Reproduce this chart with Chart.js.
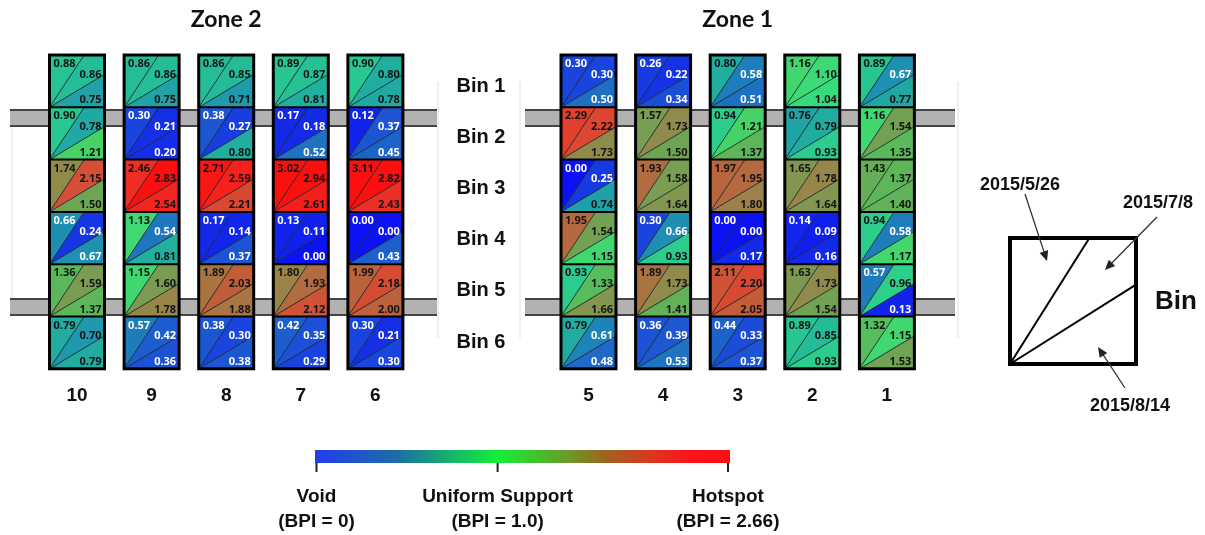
<!DOCTYPE html>
<html>
<head>
<meta charset="utf-8">
<script src="https://cdn.jsdelivr.net/npm/chart.js@4.4.1/dist/chart.umd.min.js"></script>
<style>
  html, body { margin: 0; padding: 0; background: #fff; }
  #wrap { width: 1205px; height: 535px; }
</style>
</head>
<body>
<div id="wrap"><canvas id="bpiChart" width="1205" height="535"></canvas></div>
<script>
// ---- data ----
const zoneNames = ['Zone 2', 'Zone 1'];
const zone2Columns = ['10', '9', '8', '7', '6'];
const zone1Columns = ['5', '4', '3', '2', '1'];
const binLabels = ['Bin 1', 'Bin 2', 'Bin 3', 'Bin 4', 'Bin 5', 'Bin 6'];
const surveyDates = ['2015/5/26', '2015/7/8', '2015/8/14'];

// BPI per bin (Bin 1..6), each [2015/5/26, 2015/7/8, 2015/8/14]
const bpiCol10 = [[0.88, 0.86, 0.75], [0.90, 0.78, 1.21], [1.74, 2.15, 1.50], [0.66, 0.24, 0.67], [1.36, 1.59, 1.37], [0.79, 0.70, 0.79]];
const bpiCol9  = [[0.86, 0.86, 0.75], [0.30, 0.21, 0.20], [2.46, 2.83, 2.54], [1.13, 0.54, 0.81], [1.15, 1.60, 1.78], [0.57, 0.42, 0.36]];
const bpiCol8  = [[0.86, 0.85, 0.71], [0.38, 0.27, 0.80], [2.71, 2.59, 2.21], [0.17, 0.14, 0.37], [1.89, 2.03, 1.88], [0.38, 0.30, 0.38]];
const bpiCol7  = [[0.89, 0.87, 0.81], [0.17, 0.18, 0.52], [3.02, 2.94, 2.61], [0.13, 0.11, 0.00], [1.80, 1.93, 2.12], [0.42, 0.35, 0.29]];
const bpiCol6  = [[0.90, 0.80, 0.78], [0.12, 0.37, 0.45], [3.11, 2.82, 2.43], [0.00, 0.00, 0.43], [1.99, 2.18, 2.00], [0.30, 0.21, 0.30]];
const bpiCol5  = [[0.30, 0.30, 0.50], [2.29, 2.22, 1.73], [0.00, 0.25, 0.74], [1.95, 1.54, 1.15], [0.93, 1.33, 1.66], [0.79, 0.61, 0.48]];
const bpiCol4  = [[0.26, 0.22, 0.34], [1.57, 1.73, 1.50], [1.93, 1.58, 1.64], [0.30, 0.66, 0.93], [1.89, 1.73, 1.41], [0.36, 0.39, 0.53]];
const bpiCol3  = [[0.80, 0.58, 0.51], [0.94, 1.21, 1.37], [1.97, 1.95, 1.80], [0.00, 0.00, 0.17], [2.11, 2.20, 2.05], [0.44, 0.33, 0.37]];
const bpiCol2  = [[1.16, 1.10, 1.04], [0.76, 0.79, 0.93], [1.65, 1.78, 1.64], [0.14, 0.09, 0.16], [1.63, 1.73, 1.54], [0.89, 0.85, 0.93]];
const bpiCol1  = [[0.89, 0.67, 0.77], [1.16, 1.54, 1.35], [1.43, 1.37, 1.40], [0.94, 0.58, 1.17], [0.57, 0.96, 0.13], [1.32, 1.15, 1.53]];

const zone2Values = [bpiCol10, bpiCol9, bpiCol8, bpiCol7, bpiCol6];
const zone1Values = [bpiCol5, bpiCol4, bpiCol3, bpiCol2, bpiCol1];

// colour scale ticks
const scaleTickValues = [0, 1.0, 2.66];
const scaleTickNames = ['Void', 'Uniform Support', 'Hotspot'];
const scaleTickNotes = ['(BPI = 0)', '(BPI = 1.0)', '(BPI = 2.66)'];

// ---- layout / style ----
const LAYOUT = {
    zoneLeft: [49.5, 561],
    pitch: 74.6,
    colW: 55,
    top: 55,
    binH: 52.3,
    titleY: 20,
    colLabelY: 396,
    binLabelX: 481, binLabelY: 86, binLabelStep: 51.2,
    beamY: [110, 299], beamH: 16,
    beamX: [[10, 437], [525, 955]],
    bar: { x0: 315, x1: 730, y: 450, h: 13, tickH: 9, mid: 0.44 },
    key: { x: 1010, y: 238, s: 126 }
};

// cell colour stops (value -> rgb), sampled from the figure
const CELL_STOPS = [
    [0.00, [12, 18, 245]], [0.20, [20, 45, 232]], [0.35, [28, 80, 215]],
    [0.50, [30, 110, 195]], [0.65, [30, 140, 180]], [0.78, [32, 168, 162]],
    [0.90, [40, 200, 145]], [1.05, [55, 220, 125]], [1.20, [70, 212, 105]],
    [1.35, [90, 185, 90]], [1.50, [110, 165, 85]], [1.65, [130, 150, 80]],
    [1.80, [155, 130, 72]], [1.95, [180, 105, 62]], [2.10, [205, 85, 55]],
    [2.30, [228, 62, 45]], [2.55, [245, 35, 30]], [2.80, [252, 15, 15]]
];
// gradient of the colour bar (fraction -> colour)
const BAR_STOPS = [
    [0.00, 'rgb(35,60,238)'], [0.20, 'rgb(28,110,165)'], [0.44, 'rgb(20,240,55)'],
    [0.60, 'rgb(100,160,40)'], [0.70, 'rgb(160,100,30)'], [0.82, 'rgb(225,50,30)'],
    [0.90, 'rgb(250,20,25)'], [1.00, 'rgb(250,15,20)']
];

function bpiColor(v) {
    if (v <= CELL_STOPS[0][0]) return `rgb(${CELL_STOPS[0][1].join(',')})`;
    for (let i = 1; i < CELL_STOPS.length; i++) {
        const [v1, c1] = CELL_STOPS[i];
        if (v <= v1) {
            const [v0, c0] = CELL_STOPS[i - 1];
            const t = (v - v0) / (v1 - v0);
            const c = c0.map((a, k) => Math.round(a + (c1[k] - a) * t));
            return `rgb(${c.join(',')})`;
        }
    }
    return `rgb(${CELL_STOPS[CELL_STOPS.length - 1][1].join(',')})`;
}

const ARIAL = '"Liberation Sans", Arial, sans-serif';

function poly(ctx, pts) {
    ctx.beginPath();
    pts.forEach((p, i) => (i ? ctx.lineTo(p[0], p[1]) : ctx.moveTo(p[0], p[1])));
    ctx.closePath();
}

function arrow(ctx, x0, y0, x1, y1) {
    const a = Math.atan2(y1 - y0, x1 - x0);
    const L = 10, W = 4.5;
    ctx.strokeStyle = '#333';
    ctx.lineWidth = 1.3;
    ctx.beginPath();
    ctx.moveTo(x0, y0);
    ctx.lineTo(x1 - Math.cos(a) * L * 0.8, y1 - Math.sin(a) * L * 0.8);
    ctx.stroke();
    ctx.fillStyle = '#222';
    ctx.beginPath();
    ctx.moveTo(x1, y1);
    ctx.lineTo(x1 - Math.cos(a) * L - Math.sin(a) * W, y1 - Math.sin(a) * L + Math.cos(a) * W);
    ctx.lineTo(x1 - Math.cos(a) * L + Math.sin(a) * W, y1 - Math.sin(a) * L - Math.cos(a) * W);
    ctx.closePath();
    ctx.fill();
}

// all marks are placed through the chart's x / y scales
const bpiPlugin = {
    id: 'bpiGrid',
    beforeDraw(chart) {
        const ctx = chart.ctx;
        ctx.save();
        ctx.fillStyle = '#fff';
        ctx.fillRect(0, 0, chart.width, chart.height);
        ctx.restore();
    },
    afterDraw(chart) {
        const ctx = chart.ctx;
        const sx = v => chart.scales.x.getPixelForValue(v);
        const sy = v => chart.scales.y.getPixelForValue(v);
        ctx.save();

        // faint frames
        ctx.strokeStyle = '#efefef';
        ctx.lineWidth = 2;
        [[12, 120, 300], [438, 82, 338], [520, 82, 338], [958, 82, 338]].forEach(([x, a, b]) => {
            ctx.beginPath(); ctx.moveTo(sx(x), sy(a)); ctx.lineTo(sx(x), sy(b)); ctx.stroke();
        });

        // beams behind the columns
        LAYOUT.beamX.forEach(([xa, xb]) => {
            LAYOUT.beamY.forEach(yb => {
                ctx.fillStyle = '#b3b1b1';
                ctx.fillRect(sx(xa), sy(yb), sx(xb) - sx(xa), sy(yb + LAYOUT.beamH) - sy(yb));
                ctx.strokeStyle = '#444';
                ctx.lineWidth = 2;
                ctx.beginPath();
                ctx.moveTo(sx(xa), sy(yb)); ctx.lineTo(sx(xb), sy(yb));
                ctx.moveTo(sx(xa), sy(yb + LAYOUT.beamH)); ctx.lineTo(sx(xb), sy(yb + LAYOUT.beamH));
                ctx.stroke();
            });
        });

        // zones
        const zones = [[zone2Columns, zone2Values], [zone1Columns, zone1Values]];
        zones.forEach(([cols, vals], z) => {
            const zx = LAYOUT.zoneLeft[z];
            const zoneMid = zx + LAYOUT.pitch * 2 + LAYOUT.colW / 2;
            ctx.fillStyle = '#111';
            ctx.font = 'bold 23px Lato, "Open Sans", sans-serif';
            ctx.textAlign = 'center';
            ctx.textBaseline = 'middle';
            ctx.fillText(zoneNames[z], sx(zoneMid), sy(LAYOUT.titleY));

            cols.forEach((name, c) => {
                const x0 = zx + c * LAYOUT.pitch;
                const px = sx(x0), w = sx(x0 + LAYOUT.colW) - px;
                vals[c].forEach((cell, b) => {
                    const y0 = LAYOUT.top + b * LAYOUT.binH;
                    const py = sy(y0), h = sy(y0 + LAYOUT.binH) - py;
                    const bl = [px, py + h], tl = [px, py], tr = [px + w, py], br = [px + w, py + h];
                    const p1 = [px + w * 0.63, py], p2 = [px + w, py + h * 0.37];
                    const regions = [[bl, tl, p1], [bl, p1, tr, p2], [bl, p2, br]];
                    regions.forEach((r, i) => {
                        poly(ctx, r);
                        ctx.fillStyle = bpiColor(cell[i]);
                        ctx.fill();
                    });
                    ctx.strokeStyle = 'rgba(10,30,30,0.85)';
                    ctx.lineWidth = 1;
                    ctx.beginPath();
                    ctx.moveTo(bl[0], bl[1]); ctx.lineTo(p1[0], p1[1]);
                    ctx.moveTo(bl[0], bl[1]); ctx.lineTo(p2[0], p2[1]);
                    ctx.stroke();

                    ctx.font = 'bold 11px "Noto Sans", sans-serif';
                    ctx.textBaseline = 'middle';
                    const txt = (v) => (v < 0.70 ? '#fff' : '#151515');
                    ctx.textAlign = 'left';
                    ctx.fillStyle = txt(cell[0]);
                    ctx.fillText(cell[0].toFixed(2), px + 4, py + 9);
                    ctx.textAlign = 'right';
                    ctx.fillStyle = txt(cell[1]);
                    ctx.fillText(cell[1].toFixed(2), px + w - 3, py + 19.5);
                    ctx.fillStyle = txt(cell[2]);
                    ctx.fillText(cell[2].toFixed(2), px + w - 3, py + h - 7);

                    // bin separator
                    if (b > 0) {
                        ctx.strokeStyle = '#000';
                        ctx.lineWidth = 2;
                        ctx.beginPath(); ctx.moveTo(px, py); ctx.lineTo(px + w, py); ctx.stroke();
                    }
                });
                // column outline
                const top = sy(LAYOUT.top), bot = sy(LAYOUT.top + 6 * LAYOUT.binH);
                ctx.strokeStyle = '#000';
                ctx.lineWidth = 3;
                ctx.strokeRect(px, top, w, bot - top);

                ctx.fillStyle = '#111';
                ctx.font = `bold 19px ${ARIAL}`;
                ctx.textAlign = 'center';
                ctx.textBaseline = 'middle';
                ctx.fillText(name, sx(x0 + LAYOUT.colW / 2), sy(LAYOUT.colLabelY));
            });
        });

        // bin labels
        ctx.fillStyle = '#111';
        ctx.font = `bold 20px ${ARIAL}`;
        ctx.textAlign = 'center';
        ctx.textBaseline = 'middle';
        binLabels.forEach((lab, b) => {
            ctx.fillText(lab, sx(LAYOUT.binLabelX), sy(LAYOUT.binLabelY + b * LAYOUT.binLabelStep));
        });

        // colour bar
        const bar = LAYOUT.bar;
        const barX = v => {
            const f = v <= 1 ? (v / 1) * bar.mid : bar.mid + (v - 1) / (scaleTickValues[2] - 1) * (1 - bar.mid);
            return sx(bar.x0 + f * (bar.x1 - bar.x0));
        };
        const g = ctx.createLinearGradient(sx(bar.x0), 0, sx(bar.x1), 0);
        BAR_STOPS.forEach(([f, c]) => g.addColorStop(f, c));
        ctx.fillStyle = g;
        ctx.fillRect(sx(bar.x0), sy(bar.y), sx(bar.x1) - sx(bar.x0), sy(bar.y + bar.h) - sy(bar.y));
        ctx.strokeStyle = '#222';
        ctx.lineWidth = 2;
        scaleTickValues.forEach((v, i) => {
            const tx = Math.min(barX(v), sx(bar.x1) - 2) + (i === 0 ? 1.5 : 0);
            ctx.beginPath();
            ctx.moveTo(tx, sy(bar.y + bar.h));
            ctx.lineTo(tx, sy(bar.y + bar.h + bar.tickH));
            ctx.stroke();
            ctx.fillStyle = '#111';
            ctx.font = `bold 19px ${ARIAL}`;
            ctx.textAlign = 'center';
            ctx.textBaseline = 'middle';
            ctx.fillText(scaleTickNames[i], tx, sy(497));
            ctx.fillText(scaleTickNotes[i], tx, sy(522));
        });

        // key square
        const k = LAYOUT.key;
        const kx = sx(k.x), ky = sy(k.y), ks = sx(k.x + k.s) - kx;
        ctx.strokeStyle = '#000';
        ctx.lineWidth = 2;
        ctx.beginPath();
        ctx.moveTo(kx, ky + ks); ctx.lineTo(kx + ks * 0.63, ky);
        ctx.moveTo(kx, ky + ks); ctx.lineTo(kx + ks, ky + ks * 0.37);
        ctx.stroke();
        ctx.lineWidth = 4;
        ctx.strokeRect(kx, ky, ks, ks);

        ctx.fillStyle = '#111';
        ctx.font = `bold 26px ${ARIAL}`;
        ctx.textAlign = 'center';
        ctx.fillText('Bin', sx(1176), sy(302));

        ctx.font = `bold 18px ${ARIAL}`;
        ctx.fillText(surveyDates[0], sx(1020), sy(185));
        ctx.fillText(surveyDates[1], sx(1158), sy(203));
        ctx.fillText(surveyDates[2], sx(1130), sy(406));
        arrow(ctx, sx(1025), sy(194), sx(1047), sy(261));
        arrow(ctx, sx(1157), sy(217), sx(1105), sy(270));
        arrow(ctx, sx(1125), sy(388), sx(1098), sy(347));

        ctx.restore();
    }
};

new Chart(document.getElementById('bpiChart'), {
    type: 'scatter',
    data: { datasets: [{ data: [], pointRadius: 0 }] },
    options: {
        responsive: false,
        animation: false,
        layout: { padding: 0 },
        plugins: { legend: { display: false }, tooltip: { enabled: false } },
        scales: {
            x: { type: 'linear', min: 0, max: 1205, display: false },
            y: { type: 'linear', min: 0, max: 535, reverse: true, display: false }
        }
    },
    plugins: [bpiPlugin]
});
</script>
</body>
</html>
